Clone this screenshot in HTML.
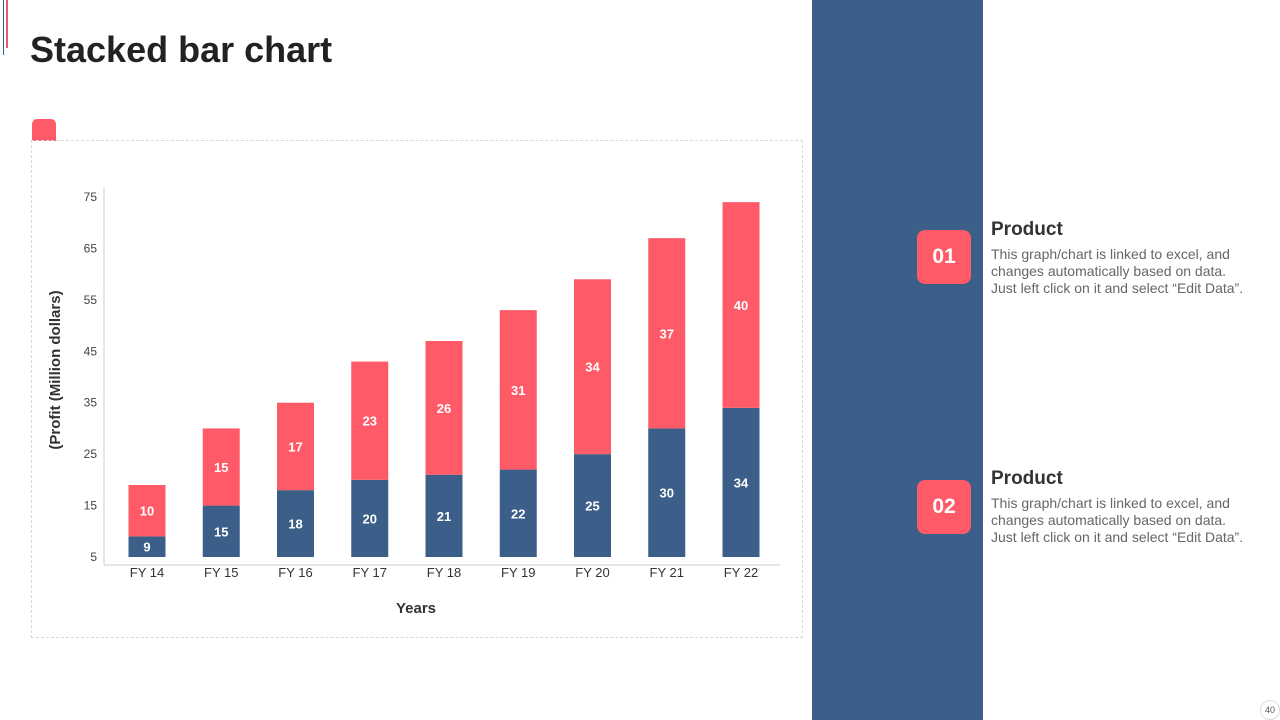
<!DOCTYPE html>
<html><head><meta charset="utf-8"><style>
body{margin:0;width:1280px;height:720px;position:relative;background:#fff;font-family:"Liberation Sans",sans-serif;overflow:hidden}
.abs{position:absolute}
h1{position:absolute;left:30px;top:29px;margin:0;font-size:36px;font-weight:bold;color:#222}
.badge{position:absolute;left:917px;width:54px;height:54px;background:#ff5a67;border-radius:8px;color:#fff;font-weight:bold;font-size:21px;text-align:center;line-height:54px}
.pt{position:absolute;left:991px;font-size:19px;font-weight:bold;color:#333}
.pd{position:absolute;left:991px;font-size:14px;color:#666;line-height:17px;white-space:nowrap}
</style></head><body>
<div class="abs" style="left:3px;top:0;width:1px;height:55px;background:#3c5f89"></div>
<div class="abs" style="left:6px;top:0;width:2px;height:48px;background:#e06070"></div>
<h1>Stacked bar chart</h1>
<div class="abs" style="left:32px;top:119px;width:24px;height:22px;background:#ff5a67;border-radius:5px 5px 0 0"></div>
<div class="abs" style="left:31px;top:140px;width:770px;height:496px;border:1px dashed #d8d8d8"></div>
<svg class="abs" style="left:0;top:0" width="810" height="720" id="chart"></svg>
<div class="abs" style="left:812px;top:0;width:171px;height:720px;background:#3c5f89"></div>
<div class="badge" style="top:230px">01</div>
<div class="pt" style="top:219px">Product</div>
<div class="pd" style="top:246px">This graph/chart is linked to excel, and<br>changes automatically based on data.<br>Just left click on it and select “Edit Data”.</div>
<div class="badge" style="top:480px">02</div>
<div class="pt" style="top:468px">Product</div>
<div class="pd" style="top:495px">This graph/chart is linked to excel, and<br>changes automatically based on data.<br>Just left click on it and select “Edit Data”.</div>
<div class="abs" style="left:1260px;top:700px;width:18px;height:18px;border:1px solid #ddd;border-radius:50%;font-size:9px;color:#555;text-align:center;line-height:18px">40</div>
<script>
const categories=["FY 14","FY 15","FY 16","FY 17","FY 18","FY 19","FY 20","FY 21","FY 22"];
const seriesBlue=[9,15,18,20,21,22,25,30,34];
const seriesRed=[10,15,17,23,26,31,34,37,40];
const yTicks=[5,15,25,35,45,55,65,75];
const svg=document.getElementById('chart');
const NS='http://www.w3.org/2000/svg';
const y0=557,y1=197,vmin=5,vmax=75;
const yS=v=>y0-(v-vmin)*(y0-y1)/(vmax-vmin);
const xS=i=>147+i*74.25;
const bw=37;
function mk(t,a){const e=document.createElementNS(NS,t);for(const k in a)e.setAttribute(k,a[k]);svg.appendChild(e);return e;}
let l=mk('line',{x1:104,y1:188,x2:104,y2:565,stroke:'#ccc'});

l=mk('line',{x1:104,y1:565,x2:780,y2:565,stroke:'#ccc'});

yTicks.forEach(v=>{const t=mk('text',{x:97,y:yS(v)+4,'text-anchor':'end','font-size':12,fill:'#444'});t.textContent=v;
});
categories.forEach((c,i)=>{
 const cx=xS(i);
 const bt=Math.min(y0,yS(seriesBlue[i]));
 const rt=yS(seriesBlue[i]+seriesRed[i]);
 let r=mk('rect',{x:cx-bw/2,y:bt,width:bw,height:y0-bt,fill:'#3c5f89'});
 
 r=mk('rect',{x:cx-bw/2,y:rt,width:bw,height:bt-rt,fill:'#ff5a67'});
 
 let t=mk('text',{x:cx,y:(bt+y0)/2+5,'text-anchor':'middle','font-size':13,'font-weight':'bold',fill:'#fff'});t.textContent=seriesBlue[i];
 
 t=mk('text',{x:cx,y:(rt+bt)/2+5,'text-anchor':'middle','font-size':13,'font-weight':'bold',fill:'#fff'});t.textContent=seriesRed[i];
 
 t=mk('text',{x:cx,y:577,'text-anchor':'middle','font-size':13,fill:'#333'});t.textContent=c;
 
});
let t=mk('text',{x:416,y:613,'text-anchor':'middle','font-size':15,'font-weight':'bold',fill:'#333'});t.textContent='Years';

t=mk('text',{x:0,y:0,'text-anchor':'middle','font-size':15,'font-weight':'bold',fill:'#333',transform:'translate(60,370) rotate(-90)'});t.textContent='(Profit  (Million dollars)';

</script>
</body></html>
